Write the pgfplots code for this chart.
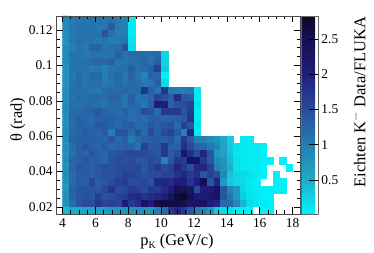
\documentclass[border=0pt]{standalone}
\usepackage{fontspec}
\setmainfont{Liberation Serif}
\usepackage{pgfplots}
\pgfplotsset{compat=1.18}
\pgfplotsset{colormap={kc}{rgb255(0)=(0,245,250) rgb255(0.25)=(15,210,225) rgb255(0.5)=(30,170,200) rgb255(1)=(35,125,178) rgb255(1.25)=(40,100,168) rgb255(1.5)=(40,75,155) rgb255(2)=(32,28,125) rgb255(2.5)=(22,15,85) rgb255(2.83)=(12,8,40)}}
\begin{document}
\begin{tikzpicture}[x=1bp,y=1bp]
\useasboundingbox (0,0) rectangle (374,253);
\begin{axis}[
  at={(56bp,39bp)},anchor=south west,scale only axis,width=244bp,height=198bp,
  xmin=3.6,xmax=18.45,ymin=0.016,ymax=0.128,
  xtick={4,6,...,18},ytick={0.02,0.04,0.06,0.08,0.1,0.12},
  yticklabels={0.02,0.04,0.06,0.08,0.1,0.12},
  minor x tick num=3,minor y tick num=3,
  tick align=inside,major tick length=6.5bp,minor tick length=3.5bp,
  axis line style={draw=black!70,line width=0.9pt},
  tick style={draw=black,line width=0.7pt},
  tick label style={font=\fontsize{13.5}{14}\selectfont},
  xticklabel style={yshift=-1.5bp},
  label style={font=\fontsize{16.5}{18}\selectfont},
  xlabel={p\raisebox{-3pt}{\fontsize{10}{10}\selectfont K} (GeV/c)},
  ylabel={θ (rad)},
  xlabel style={at={(axis description cs:0.496,-0.14)},anchor=center},
  ylabel style={at={(axis description cs:-0.156,0.475)},anchor=center},
  /pgf/number format/assume math mode=true,
  axis on top,
  enlargelimits=false,
  colormap name=kc,
  point meta min=0.017,point meta max=2.83,
  colorbar,
  colorbar style={
    at={(1.004,0)},anchor=south west,width=17bp,height=198bp,
    ytick={0.5,1,1.5,2,2.5},
    yticklabels={0.5,1,1.5,2,2.5},
    tick align=inside,ytick pos=right,major tick length=9bp,
    axis line style={draw=black!60},
    tick style={draw=black,line width=0.7pt},
    tick label style={font=\fontsize{13.5}{14}\selectfont},
    ylabel={Eichten K$^{-}$ Data/FLUKA},
    ylabel style={font=\fontsize{16.5}{18}\selectfont,at={(axis description cs:3.4,0.565)},anchor=center},
  },
]
\addplot[matrix plot*,mesh/cols=36,point meta=explicit]
 table[header=false,row sep=\\,x expr={4.2+0.4*(\coordindex-36*floor(\coordindex/36+0.001))},y expr={0.126-0.004*floor(\coordindex/36+0.001)},meta index=0]{
.85\\1.05\\1.1\\1.1\\1.1\\1.1\\1.05\\1.1\\1.0\\.95\\.1\\nan\\nan\\nan\\nan\\nan\\nan\\nan\\nan\\nan\\nan\\nan\\nan\\nan\\nan\\nan\\nan\\nan\\nan\\nan\\nan\\nan\\nan\\nan\\nan\\nan\\
.85\\1.05\\1.1\\1.1\\1.1\\1.05\\1.1\\1.35\\1.05\\1.0\\.1\\nan\\nan\\nan\\nan\\nan\\nan\\nan\\nan\\nan\\nan\\nan\\nan\\nan\\nan\\nan\\nan\\nan\\nan\\nan\\nan\\nan\\nan\\nan\\nan\\nan\\
.85\\1.05\\1.1\\1.15\\1.1\\1.1\\1.45\\1.15\\1.0\\1.0\\.1\\nan\\nan\\nan\\nan\\nan\\nan\\nan\\nan\\nan\\nan\\nan\\nan\\nan\\nan\\nan\\nan\\nan\\nan\\nan\\nan\\nan\\nan\\nan\\nan\\nan\\
.8\\1.05\\1.15\\1.1\\1.1\\1.05\\1.1\\1.0\\1.05\\1.1\\.15\\nan\\nan\\nan\\nan\\nan\\nan\\nan\\nan\\nan\\nan\\nan\\nan\\nan\\nan\\nan\\nan\\nan\\nan\\nan\\nan\\nan\\nan\\nan\\nan\\nan\\
.85\\1.0\\1.1\\1.05\\1.25\\1.25\\1.1\\1.15\\1.15\\1.45\\.2\\nan\\nan\\nan\\nan\\nan\\nan\\nan\\nan\\nan\\nan\\nan\\nan\\nan\\nan\\nan\\nan\\nan\\nan\\nan\\nan\\nan\\nan\\nan\\nan\\nan\\
.85\\1.1\\1.1\\1.05\\1.1\\1.1\\1.1\\1.1\\1.3\\1.1\\1.2\\1.2\\1.2\\1.15\\1.2\\.25\\nan\\nan\\nan\\nan\\nan\\nan\\nan\\nan\\nan\\nan\\nan\\nan\\nan\\nan\\nan\\nan\\nan\\nan\\nan\\nan\\
.85\\1.1\\1.1\\1.15\\1.2\\1.25\\1.2\\1.3\\1.1\\1.1\\1.15\\1.2\\1.25\\1.1\\1.3\\.25\\nan\\nan\\nan\\nan\\nan\\nan\\nan\\nan\\nan\\nan\\nan\\nan\\nan\\nan\\nan\\nan\\nan\\nan\\nan\\nan\\
.8\\1.1\\1.1\\1.1\\1.05\\1.1\\1.0\\1.1\\1.15\\1.2\\1.3\\1.15\\1.2\\1.3\\1.6\\.3\\nan\\nan\\nan\\nan\\nan\\nan\\nan\\nan\\nan\\nan\\nan\\nan\\nan\\nan\\nan\\nan\\nan\\nan\\nan\\nan\\
.8\\1.05\\1.2\\1.1\\1.2\\1.2\\1.0\\1.15\\1.25\\1.1\\1.25\\1.1\\.95\\1.3\\1.25\\.05\\nan\\nan\\nan\\nan\\nan\\nan\\nan\\nan\\nan\\nan\\nan\\nan\\nan\\nan\\nan\\nan\\nan\\nan\\nan\\nan\\
.8\\1.1\\1.2\\1.1\\1.15\\1.15\\1.05\\1.1\\1.2\\1.1\\1.2\\1.15\\1.05\\1.1\\1.3\\.2\\nan\\nan\\nan\\nan\\nan\\nan\\nan\\nan\\nan\\nan\\nan\\nan\\nan\\nan\\nan\\nan\\nan\\nan\\nan\\nan\\
.85\\1.15\\1.15\\1.15\\1.1\\1.05\\1.15\\1.2\\1.2\\1.25\\1.15\\1.2\\1.75\\1.3\\1.1\\1.75\\1.05\\1.0\\1.0\\1.05\\.1\\nan\\nan\\nan\\nan\\nan\\nan\\nan\\nan\\nan\\nan\\nan\\nan\\nan\\nan\\nan\\
.85\\1.1\\1.2\\1.15\\1.2\\1.2\\1.15\\1.25\\1.25\\1.1\\1.3\\1.1\\1.15\\1.25\\1.6\\1.45\\1.3\\1.85\\1.4\\1.3\\.1\\nan\\nan\\nan\\nan\\nan\\nan\\nan\\nan\\nan\\nan\\nan\\nan\\nan\\nan\\nan\\
.85\\1.15\\1.15\\1.2\\1.2\\1.15\\1.1\\1.2\\1.2\\1.1\\1.25\\1.2\\1.05\\1.3\\2.0\\2.0\\1.3\\1.45\\1.5\\1.6\\.15\\nan\\nan\\nan\\nan\\nan\\nan\\nan\\nan\\nan\\nan\\nan\\nan\\nan\\nan\\nan\\
.85\\1.2\\1.2\\1.25\\1.3\\1.4\\1.25\\1.2\\1.15\\1.3\\1.15\\1.25\\1.5\\1.45\\1.2\\1.7\\1.7\\1.7\\1.45\\1.65\\.1\\nan\\nan\\nan\\nan\\nan\\nan\\nan\\nan\\nan\\nan\\nan\\nan\\nan\\nan\\nan\\
.8\\1.2\\1.3\\1.25\\1.2\\1.3\\1.3\\1.3\\1.25\\1.25\\1.15\\1.2\\1.15\\1.3\\1.3\\1.25\\1.3\\1.3\\1.35\\1.75\\.1\\nan\\nan\\nan\\nan\\nan\\nan\\nan\\nan\\nan\\nan\\nan\\nan\\nan\\nan\\nan\\
.8\\1.2\\1.3\\1.25\\1.25\\1.4\\1.35\\1.3\\1.2\\1.3\\1.35\\1.2\\1.25\\1.4\\1.3\\1.4\\1.45\\1.2\\1.6\\1.4\\.15\\nan\\nan\\nan\\nan\\nan\\nan\\nan\\nan\\nan\\nan\\nan\\nan\\nan\\nan\\nan\\
.85\\1.2\\1.25\\1.35\\1.3\\1.25\\1.35\\1.0\\1.45\\1.4\\1.2\\1.45\\1.2\\1.5\\1.3\\1.5\\1.6\\1.35\\1.0\\1.9\\.1\\nan\\nan\\nan\\nan\\nan\\nan\\nan\\nan\\nan\\nan\\nan\\nan\\nan\\nan\\nan\\
.85\\1.25\\1.3\\1.3\\1.35\\1.3\\1.25\\1.4\\1.2\\1.3\\1.05\\1.2\\1.3\\1.3\\1.35\\1.3\\1.45\\1.2\\1.7\\1.4\\1.0\\1.0\\.85\\.75\\.55\\.3\\nan\\.1\\.1\\nan\\nan\\nan\\nan\\nan\\nan\\nan\\
.85\\1.15\\1.3\\1.4\\1.3\\1.25\\1.35\\1.2\\1.25\\1.3\\1.25\\1.1\\1.6\\1.4\\1.4\\1.7\\1.3\\1.3\\1.8\\1.5\\1.3\\1.2\\1.05\\.9\\.6\\.3\\.15\\.1\\.1\\.08\\.05\\nan\\nan\\nan\\nan\\nan\\
.8\\1.15\\1.3\\1.25\\1.4\\1.3\\1.25\\1.4\\1.45\\1.5\\1.55\\1.5\\1.5\\1.45\\1.4\\1.7\\1.35\\1.5\\2.2\\1.8\\1.5\\1.9\\1.4\\.7\\.6\\.35\\.12\\.1\\.1\\.08\\.05\\nan\\nan\\nan\\nan\\nan\\
.85\\1.25\\1.3\\1.4\\1.3\\1.3\\1.25\\1.45\\1.5\\1.45\\1.5\\1.4\\1.4\\1.5\\1.45\\.95\\1.4\\1.7\\1.7\\2.4\\2.3\\1.7\\1.4\\.85\\.75\\.4\\.15\\.1\\.1\\.08\\.05\\.05\\nan\\.05\\nan\\nan\\
.8\\1.25\\1.4\\1.35\\1.3\\1.4\\1.5\\1.45\\1.5\\1.5\\1.5\\1.55\\1.4\\1.55\\1.7\\1.5\\1.6\\1.9\\1.7\\1.5\\1.9\\1.9\\1.6\\.95\\.8\\.5\\.15\\.1\\.1\\.08\\.05\\nan\\nan\\nan\\.05\\nan\\
.85\\1.2\\1.35\\1.35\\1.3\\1.4\\1.45\\1.45\\1.5\\1.6\\1.6\\1.5\\1.45\\1.5\\1.5\\1.6\\1.6\\1.75\\1.9\\1.7\\1.8\\1.4\\1.6\\1.5\\.9\\.35\\.25\\.2\\.15\\.1\\.05\\nan\\.05\\nan\\nan\\nan\\
.8\\1.2\\1.35\\1.3\\1.55\\1.35\\1.4\\1.5\\1.6\\1.65\\1.5\\1.5\\1.55\\1.45\\1.9\\1.9\\1.85\\2.0\\2.0\\1.75\\2.0\\2.5\\1.4\\1.9\\.7\\.3\\.25\\.2\\.1\\.05\\nan\\nan\\.05\\.05\\nan\\nan\\
.75\\1.3\\1.4\\1.45\\1.4\\1.4\\1.55\\1.75\\1.5\\1.55\\1.7\\1.6\\1.5\\1.7\\1.7\\1.85\\2.0\\2.5\\2.4\\2.3\\1.5\\2.0\\2.1\\2.3\\1.4\\.9\\.7\\.25\\.12\\.1\\.08\\.05\\.05\\.05\\nan\\nan\\
.8\\1.25\\1.4\\1.45\\1.4\\1.6\\1.45\\1.5\\1.6\\1.65\\1.85\\1.9\\1.75\\1.85\\1.9\\2.0\\2.3\\2.7\\2.8\\2.4\\2.1\\2.1\\2.2\\2.3\\1.4\\1.1\\.7\\.3\\.15\\.1\\.08\\.05\\nan\\nan\\nan\\nan\\
.8\\1.15\\1.4\\1.5\\1.5\\1.7\\1.55\\1.6\\1.55\\2.0\\1.7\\1.8\\2.3\\2.0\\2.55\\2.65\\2.6\\2.6\\2.5\\2.3\\2.3\\2.4\\2.0\\1.9\\1.2\\1.2\\.9\\.45\\.2\\.12\\.1\\.05\\nan\\nan\\nan\\nan\\
.4\\.5\\.5\\.55\\.55\\.6\\.65\\.7\\.75\\.75\\.8\\.8\\.8\\.75\\1.0\\1.2\\1.7\\1.9\\1.7\\1.4\\1.0\\.9\\.7\\.3\\.2\\.15\\.1\\.08\\.05\\nan\\.05\\.05\\nan\\nan\\nan\\nan\\
};
\end{axis}
\end{tikzpicture}
\end{document}
